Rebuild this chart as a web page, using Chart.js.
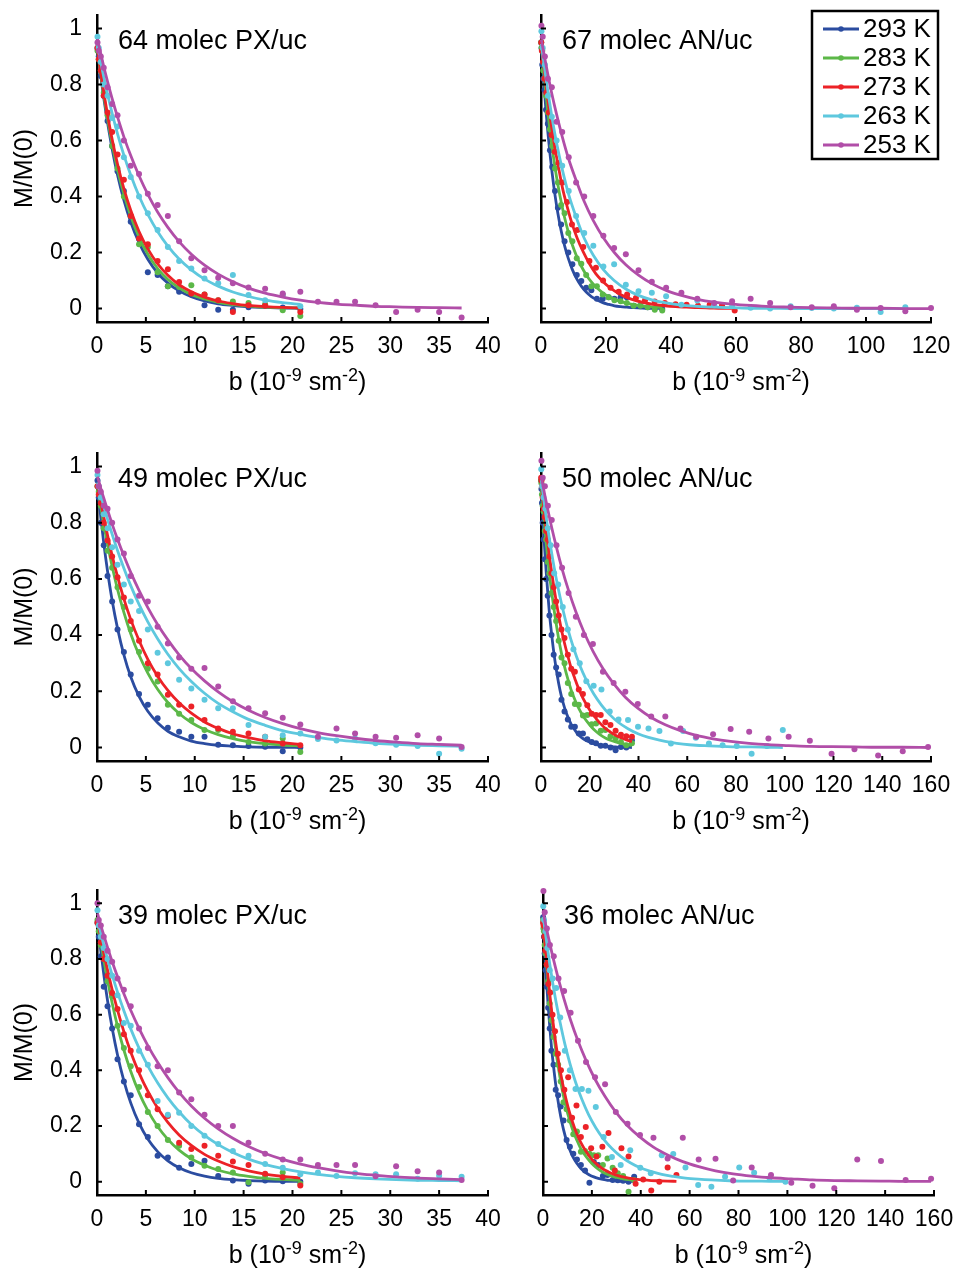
<!DOCTYPE html>
<html lang="en">
<head>
<meta charset="UTF-8">
<title>Normalised echo decay M/M(0)</title>
<script src="https://cdn.jsdelivr.net/npm/chart.js@4"></script>
<style>
body { margin: 0; background: #fff; overflow: hidden; width: 958px; height: 1273px; position: relative; }
.panel { position: absolute; }
</style>
</head>
<body>
<div class="panel" id="tl"></div>
<div class="panel" id="tr"></div>
<div class="panel" id="ml"></div>
<div class="panel" id="mr"></div>
<div class="panel" id="bl"></div>
<div class="panel" id="br"></div>
<script>
// legend + axes
const temps = ['293 K', '283 K', '273 K', '263 K', '253 K'];
const colors = ['#2b4ca0', '#5cb848', '#ec2227', '#5ec8de', '#b14ea8'];
const yTicks = [0, 0.2, 0.4, 0.6, 0.8, 1];
const xTicksPX = [0, 5, 10, 15, 20, 25, 30, 35, 40];
const xTicks120 = [0, 20, 40, 60, 80, 100, 120];
const xTicks160 = [0, 20, 40, 60, 80, 100, 120, 140, 160];
// x title pieces: text, font size, baseline shift (superscripts raised)
const xTitleParts = [['b (10', 25, 0], ['-9', 18, -9], [' sm', 25, 0], ['-2', 18, -9], [')', 25, 0]];

// b values (10^-9 s m^-2)
const b37 = [0.05, 0.18, 0.39, 0.69, 1.08, 1.55, 2.1, 2.75, 3.45, 4.3, 5.2, 6.2, 7.25, 8.4, 9.65, 11.0, 12.4, 13.9, 15.5, 17.2, 19.0, 20.8, 22.6, 24.5, 26.4, 28.5, 30.6, 32.8, 35.0, 37.3];
const b55 = [0.06, 0.24, 0.55, 0.97, 1.52, 2.19, 2.97, 3.88, 4.92, 6.07, 7.34, 8.74, 10.3, 11.9, 13.7, 15.5, 17.5, 19.7, 21.9, 24.3, 26.8, 29.4, 32.1, 35.0, 37.9, 41.0, 44.3, 47.6, 51.0, 54.6];
const b60 = [0.07, 0.26, 0.6, 1.06, 1.66, 2.38, 3.24, 4.24, 5.36, 6.62, 8.01, 9.53, 11.2, 13.0, 14.9, 16.9, 19.1, 21.4, 23.9, 26.5, 29.2, 32.0, 35.0, 38.1, 41.4, 44.8, 48.3, 51.9, 55.7, 59.6];
const b100 = [0.11, 0.44, 0.99, 1.76, 2.76, 3.97, 5.4, 7.05, 8.93, 11.0, 13.3, 15.9, 18.6, 21.6, 24.8, 28.2, 31.8, 35.7, 39.8, 44.1, 48.6, 53.3, 58.3, 63.5, 68.9, 74.5, 80.3, 86.4, 92.7, 99.2];
const b120 = [0.13, 0.53, 1.2, 2.13, 3.33, 4.8, 6.53, 8.53, 10.8, 13.3, 16.1, 19.2, 22.5, 26.1, 30.0, 34.1, 38.5, 43.2, 48.1, 53.3, 58.8, 64.5, 70.5, 76.8, 83.3, 90.1, 97.2, 104.5, 112.1, 120];
const b160 = [0.18, 0.71, 1.59, 2.82, 4.41, 6.35, 8.64, 11.3, 14.3, 17.6, 21.3, 25.4, 29.8, 34.6, 39.7, 45.2, 51.0, 57.2, 63.7, 70.6, 77.8, 85.4, 93.3, 101.6, 110.3, 119.2, 128.6, 138.3, 148.4, 158.8];

// 64 molec PX/uc
const px64_293 = [.93,.90,.83,.76,.67,.58,.49,.42,.31,.25,.13,.12,.08,.06,.05,.012,-.004,-.004,.005,.01,.004,-.002];
const px64_293_fit = [.925,.887,.829,.752,.664,.570,.477,.387,.309,.235,.176,.127,.091,.063,.042,.027,.017,.011,.006,.004,.002,.001];
const px64_283 = [.92,.89,.85,.77,.69,.58,.50,.40,.33,.23,.22,.13,.08,.077,.083,.05,.03,.025,.02,.015,-.006,-.027];
const px64_283_fit = [.926,.890,.836,.763,.678,.588,.497,.409,.330,.255,.194,.143,.104,.074,.050,.034,.022,.014,.009,.005,.003,.002];
const px64_273 = [.93,.89,.85,.76,.70,.63,.55,.46,.33,.25,.23,.17,.14,.095,.054,.05,.03,-.012,.012,.01,.048,-.012];
const px64_273_fit = [.927,.893,.841,.772,.691,.604,.516,.428,.351,.275,.213,.160,.119,.085,.060,.041,.027,.018,.011,.007,.004,.002];
const px64_263 = [.97,.93,.88,.80,.76,.68,.65,.54,.47,.40,.34,.28,.22,.17,.143,.107,.09,.12,.048,.03,.048,.008];
const px64_263_fit = [.941,.917,.879,.827,.765,.697,.624,.548,.477,.402,.336,.275,.223,.177,.138,.105,.080,.059,.043,.030,.021,.015];
const px64_253 = [.95,.92,.90,.86,.79,.73,.69,.60,.51,.48,.41,.37,.33,.24,.18,.137,.11,.09,.075,.071,.054,.06,.024,.024,.024,.012,-.012,-.004,-.012,-.032];
const px64_253_fit = [.962,.941,.909,.864,.810,.749,.684,.613,.546,.474,.408,.345,.290,.239,.194,.155,.123,.096,.073,.055,.041,.030,.022,.016,.012,.008,.006,.004,.003,.002];

// 67 molec AN/uc
const an67_293 = [.95,.93,.87,.82,.78,.71,.66,.565,.505,.42,.36,.30,.24,.20,.158,.12,.098,.074,.065,.035,.035,.04,.035,.04,.04,.01,.01,.005,.0,-.002];
const an67_293_fit = [.95,.925,.887,.836,.774,.704,.631,.554,.482,.406,.339,.278,.225,.179,.139,.106,.080,.059,.043,.031,.021,.015,.010,.007,.005,.003,.002,.001,.001,0];
const an67_283 = [.95,.93,.92,.85,.82,.76,.70,.64,.58,.50,.45,.37,.34,.27,.24,.18,.16,.12,.08,.08,.05,.04,.03,.026,.02,.01,.01,.005,-.004,-.007];
const an67_283_fit = [.953,.935,.906,.866,.817,.762,.702,.637,.574,.505,.442,.381,.325,.274,.227,.186,.151,.121,.095,.074,.056,.043,.033,.025,.019,.014,.010,.007,.005,.004];
const an67_273 = [.95,.92,.88,.82,.77,.70,.62,.56,.52,.45,.38,.30,.28,.22,.17,.146,.10,.074,.06,.05,.038,.03,.025,.02,.015,.014,.01,.014,.012,-.007];
const an67_273_fit = [.951,.928,.893,.845,.785,.720,.650,.576,.506,.430,.366,.304,.249,.202,.160,.124,.096,.073,.054,.039,.028,.020,.014,.010,.007,.005,.003,.002,.001,.001];
const an67_263 = [.99,.93,.87,.76,.685,.60,.51,.42,.33,.27,.224,.15,.158,.085,.062,.056,.044,.014,.029,.012,.008,.003,.0,.008,.002,.0,.003,-.012,.005];
const an67_263_fit = [.945,.907,.850,.774,.686,.591,.498,.407,.327,.251,.190,.139,.100,.070,.047,.031,.020,.012,.008,.005,.003,.001,.001,0,0,0,0,0,0];
const an67_253 = [1.01,.97,.90,.82,.79,.667,.63,.54,.45,.40,.33,.26,.216,.194,.137,.096,.074,.056,.035,.02,.026,.035,.02,.005,.005,.008,-.004,.002,-.01,.002];
const an67_253_fit = [.96,.933,.891,.835,.767,.693,.614,.533,.458,.382,.314,.253,.201,.156,.119,.089,.065,.047,.033,.023,.016,.011,.007,.005,.003,.002,.001,.001,0,0];

// 49 molec PX/uc
const px49_293 = [.95,.89,.80,.72,.61,.52,.42,.34,.26,.19,.152,.104,.07,.056,.038,.038,.01,.008,.005,.003,-.013,.0];
const px49_293_fit = [.932,.886,.818,.728,.627,.523,.424,.330,.252,.182,.129,.088,.058,.038,.023,.014,.008,.005,.002,.001,.001,0];
const px49_283 = [.93,.91,.86,.78,.70,.64,.57,.50,.42,.34,.28,.235,.152,.12,.098,.062,.062,.04,.02,.014,.032,-.016];
const px49_283_fit = [.929,.900,.855,.794,.722,.644,.563,.481,.405,.329,.265,.207,.160,.121,.089,.064,.046,.032,.021,.014,.009,.006];
const px49_273 = [.93,.90,.87,.80,.737,.68,.606,.534,.45,.38,.30,.26,.188,.152,.146,.098,.068,.056,.05,.038,.014,.008];
const px49_273_fit = [.940,.914,.874,.821,.755,.683,.608,.529,.456,.381,.314,.254,.203,.159,.122,.091,.068,.049,.035,.024,.017,.011];
const px49_263 = [.97,.93,.89,.83,.78,.713,.65,.58,.52,.486,.42,.337,.30,.241,.21,.17,.14,.14,.08,.038,.044,.05,.03,.025,.032,.015,.01,.005,-.022,-.004];
const px49_263_fit = [.943,.925,.898,.860,.812,.759,.701,.638,.576,.509,.447,.387,.332,.281,.235,.193,.157,.127,.100,.079,.060,.047,.036,.027,.021,.015,.011,.008,.006,.004];
const px49_253 = [.985,.93,.91,.86,.85,.80,.74,.69,.61,.54,.52,.43,.37,.32,.28,.283,.217,.165,.14,.122,.106,.082,.038,.068,.05,.038,.035,.044,.032,.002];
const px49_253_fit = [.964,.948,.922,.888,.845,.795,.741,.682,.623,.559,.498,.438,.383,.330,.281,.237,.198,.163,.133,.107,.085,.067,.053,.042,.033,.025,.019,.014,.011,.008];

// 50 molec AN/uc
const an50_293 = [.95,.92,.87,.80,.74,.67,.60,.54,.47,.40,.33,.285,.26,.17,.128,.10,.074,.074,.05,.05,.029,.02,.015,.006,.006,.0,-.01,.002,.0,.026];
const an50_293_fit = [.942,.918,.881,.830,.768,.701,.628,.553,.478,.408,.342,.281,.228,.181,.142,.109,.082,.062,.044,.032,.023,.016,.011,.007,.005,.003,.002,.001,.001,0];
const an50_283 = [.95,.94,.90,.86,.84,.77,.74,.66,.62,.55,.50,.45,.38,.32,.30,.23,.19,.155,.152,.114,.116,.083,.085,.06,.062,.04,.032,.02,.008,.015];
const an50_283_fit = [.945,.929,.906,.873,.831,.785,.732,.676,.617,.559,.500,.442,.387,.335,.288,.244,.204,.170,.139,.113,.091,.072,.057,.044,.034,.026,.020,.015,.011,.008];
const an50_273 = [.96,.95,.93,.89,.85,.82,.77,.74,.68,.62,.57,.52,.47,.42,.39,.33,.28,.27,.206,.19,.15,.12,.116,.116,.09,.08,.06,.045,.04,.038];
const an50_273_fit = [.956,.944,.924,.897,.863,.825,.780,.733,.681,.629,.576,.522,.470,.419,.371,.326,.282,.245,.208,.176,.148,.123,.103,.084,.068,.055,.044,.035,.027,.021];
const an50_263 = [.99,.93,.89,.85,.78,.72,.62,.58,.50,.42,.35,.30,.236,.22,.206,.128,.10,.098,.074,.068,.059,.014,.059,.035,.014,.008,.005,-.022,.005,.062];
const an50_263_fit = [.952,.929,.892,.842,.781,.714,.641,.567,.493,.422,.356,.293,.240,.191,.151,.117,.089,.067,.049,.036,.026,.018,.012,.008,.006,.004,.002,.002,.001,0];
const an50_253 = [1.02,.96,.93,.86,.81,.72,.64,.55,.465,.40,.368,.27,.23,.198,.155,.11,.11,.068,.038,.047,.066,.056,.032,.038,.024,-.022,-.006,-.028,-.013,.002];
const an50_253_fit = [.961,.937,.897,.845,.782,.712,.636,.559,.483,.411,.343,.281,.227,.179,.140,.107,.081,.060,.043,.031,.022,.015,.010,.007,.004,.003,.002,.001,.001,0];

// 39 molec PX/uc
const px39_293 = [.93,.88,.81,.70,.63,.55,.44,.36,.31,.206,.16,.093,.087,.05,.063,.075,.02,.004,-.008,.004,.001,.0];
const px39_293_fit = [.934,.892,.829,.746,.650,.552,.455,.362,.283,.210,.153,.108,.075,.050,.032,.020,.012,.007,.004,.002,.001,.001];
const px39_283 = [.94,.90,.85,.80,.72,.666,.56,.48,.415,.34,.25,.20,.15,.129,.087,.057,.045,.033,-.002,.021,.033,-.008];
const px39_283_fit = [.938,.908,.861,.798,.723,.642,.558,.473,.397,.320,.255,.198,.152,.113,.082,.059,.041,.028,.019,.012,.008,.005];
const px39_273 = [.93,.92,.86,.80,.74,.678,.62,.53,.47,.40,.31,.26,.236,.14,.117,.129,.093,.072,.06,.028,.016,-.014];
const px39_273_fit = [.940,.915,.877,.823,.760,.690,.616,.539,.466,.391,.325,.265,.213,.168,.130,.098,.074,.054,.039,.027,.019,.013];
const px39_263 = [.975,.92,.88,.84,.80,.74,.67,.57,.56,.47,.42,.29,.24,.248,.20,.165,.135,.11,.093,.063,.05,.027,.033,.02,.03,.027,.027,.01,.021,.018];
const px39_263_fit = [.943,.923,.893,.851,.800,.743,.681,.614,.549,.480,.416,.355,.301,.251,.205,.166,.133,.105,.081,.062,.047,.035,.026,.019,.014,.010,.007,.005,.004,.003];
const px39_253 = [1.0,.94,.92,.88,.83,.79,.73,.69,.63,.55,.48,.415,.40,.32,.296,.24,.20,.20,.14,.10,.08,.08,.06,.06,.06,.019,.055,.037,.033,.006];
const px39_253_fit = [.964,.948,.921,.886,.842,.791,.736,.675,.616,.551,.489,.429,.374,.321,.272,.228,.190,.156,.126,.101,.080,.063,.050,.039,.030,.023,.017,.013,.010,.007];

// 36 molec AN/uc
const an36_293 = [.95,.93,.88,.82,.76,.70,.625,.55,.47,.42,.33,.31,.27,.22,.15,.125,.10,.08,.06,.04,-.004,.071,.06,.02,.024,.006,.005,.003,.0,.018];
const an36_293_fit = [.942,.918,.882,.832,.772,.705,.633,.559,.485,.415,.349,.288,.234,.187,.147,.114,.086,.065,.047,.034,.024,.017,.012,.008,.005,.004,.002,.001,.001,.001];
const an36_283 = [.94,.91,.90,.85,.82,.78,.72,.64,.58,.52,.46,.42,.36,.285,.26,.22,.17,.18,.107,.11,.10,.095,.095,.06,.083,.05,.03,.02,-.036,.006];
const an36_283_fit = [.945,.928,.902,.866,.823,.772,.717,.657,.596,.535,.474,.415,.359,.307,.260,.218,.180,.148,.118,.095,.075,.058,.045,.034,.026,.019,.014,.010,.007,.005];
const an36_273 = [.93,.92,.88,.83,.78,.71,.68,.60,.54,.46,.40,.33,.375,.23,.274,.16,.196,.12,.09,.125,.175,.04,.12,.09,-.008,.008,-.032,.0,.051,.024];
const an36_273_fit = [.943,.922,.887,.843,.788,.725,.658,.588,.517,.449,.384,.323,.266,.219,.175,.140,.110,.083,.064,.047,.035,.025,.018,.013,.009,.006,.004,.003,.002,.001];
const an36_263 = [.99,.94,.90,.84,.76,.73,.696,.59,.47,.40,.333,.333,.327,.268,.16,.089,.06,.113,.05,.03,.095,.099,.051,-.012,-.018,.018,.051,.032,.012,.0];
const an36_263_fit = [.952,.929,.892,.843,.782,.715,.643,.570,.495,.425,.358,.296,.242,.194,.153,.119,.091,.068,.050,.037,.026,.019,.013,.009,.006,.004,.002,.002,.001,.001];
const an36_253 = [1.044,.968,.91,.85,.81,.73,.685,.607,.506,.43,.375,.35,.25,.208,.168,.158,.083,.158,.08,.082,.004,.051,.024,-.004,-.015,-.024,.08,.074,.006,.01];
const an36_253_fit = [.962,.939,.902,.854,.794,.727,.655,.580,.506,.436,.368,.306,.250,.201,.160,.124,.096,.072,.054,.039,.028,.020,.014,.010,.006,.004,.003,.002,.001,.001];

const panels = [
  { id: 'tl', text: '64 molec PX/uc', xMax: 40, xTicks: xTicksPX,
    series: [[b37, px64_293, px64_293_fit], [b37, px64_283, px64_283_fit], [b37, px64_273, px64_273_fit], [b37, px64_263, px64_263_fit], [b37, px64_253, px64_253_fit]] },
  { id: 'tr', text: '67 molec AN/uc', xMax: 120, xTicks: xTicks120, legend: true,
    series: [[b37, an67_293, an67_293_fit], [b37, an67_283, an67_283_fit], [b60, an67_273, an67_273_fit], [b120, an67_263, an67_263_fit], [b120, an67_253, an67_253_fit]] },
  { id: 'ml', text: '49 molec PX/uc', xMax: 40, xTicks: xTicksPX,
    series: [[b37, px49_293, px49_293_fit], [b37, px49_283, px49_283_fit], [b37, px49_273, px49_273_fit], [b37, px49_263, px49_263_fit], [b37, px49_253, px49_253_fit]] },
  { id: 'mr', text: '50 molec AN/uc', xMax: 160, xTicks: xTicks160,
    series: [[b37, an50_293, an50_293_fit], [b37, an50_283, an50_283_fit], [b37, an50_273, an50_273_fit], [b100, an50_263, an50_263_fit], [b160, an50_253, an50_253_fit]] },
  { id: 'bl', text: '39 molec PX/uc', xMax: 40, xTicks: xTicksPX,
    series: [[b37, px39_293, px39_293_fit], [b37, px39_283, px39_283_fit], [b37, px39_273, px39_273_fit], [b37, px39_263, px39_263_fit], [b37, px39_253, px39_253_fit]] },
  { id: 'br', text: '36 molec AN/uc', xMax: 160, xTicks: xTicks160,
    series: [[b37, an36_293, an36_293_fit], [b37, an36_283, an36_283_fit], [b55, an36_273, an36_273_fit], [b100, an36_263, an36_263_fit], [b160, an36_253, an36_253_fit]] }
];

// where each panel sits on the page
const layout = {
  tl: { left: 0,   top: 0,   w: 500, h: 402, padTop: 15, padRight: 12, yW: 97, xH: 80, yLabels: true },
  tr: { left: 500, top: 0,   w: 458, h: 402, padTop: 15, padRight: 27, yW: 41, xH: 80, yLabels: false },
  ml: { left: 0,   top: 437, w: 500, h: 404, padTop: 16, padRight: 12, yW: 97, xH: 80, yLabels: true },
  mr: { left: 500, top: 437, w: 458, h: 404, padTop: 16, padRight: 27, yW: 41, xH: 80, yLabels: false },
  bl: { left: 0,   top: 875, w: 500, h: 396, padTop: 15, padRight: 12, yW: 97, xH: 76, yLabels: true },
  br: { left: 500, top: 875, w: 458, h: 396, padTop: 15, padRight: 24, yW: 43, xH: 76, yLabels: false }
};

const FONT = '"Liberation Sans", Arial, Helvetica, sans-serif';
Chart.defaults.font.family = FONT;
Chart.defaults.color = '#000';

// MATLAB style ticks pointing into the plot
const inwardTicks = {
  id: 'inwardTicks',
  afterDraw(chart) {
    const { ctx, chartArea: a, scales: { x, y } } = chart;
    ctx.save();
    ctx.strokeStyle = '#000';
    ctx.lineWidth = 2;
    ctx.beginPath();
    x.ticks.forEach(t => {
      const px = x.getPixelForValue(t.value);
      ctx.moveTo(px, a.bottom);
      ctx.lineTo(px, a.bottom - 5);
    });
    y.ticks.forEach(t => {
      const py = y.getPixelForValue(t.value);
      ctx.moveTo(a.left, py);
      ctx.lineTo(a.left + 5, py);
    });
    ctx.stroke();
    ctx.restore();
  }
};

// panel caption + x axis title with real superscripts
const panelText = {
  id: 'panelText',
  afterDraw(chart, args, opts) {
    const { ctx, chartArea: a } = chart;
    ctx.save();
    ctx.fillStyle = '#000';
    ctx.textBaseline = 'alphabetic';
    ctx.font = '27px ' + FONT;
    ctx.fillText(opts.text, a.left + 21, a.top + 34);

    let total = 0;
    xTitleParts.forEach(([s, size]) => {
      ctx.font = size + 'px ' + FONT;
      total += ctx.measureText(s).width;
    });
    let x = (a.left + a.right) / 2 + 5 - total / 2;
    const base = a.bottom + 68;
    xTitleParts.forEach(([s, size, shift]) => {
      ctx.font = size + 'px ' + FONT;
      ctx.fillText(s, x, base + shift);
      x += ctx.measureText(s).width;
    });
    ctx.restore();
  }
};

const tempLegend = {
  id: 'tempLegend',
  afterDraw(chart) {
    const { ctx, chartArea: a } = chart;
    const x0 = a.right + 7 - 126, y0 = a.top - 4;
    ctx.save();
    ctx.fillStyle = '#fff';
    ctx.fillRect(x0, y0, 126, 148);
    ctx.strokeStyle = '#000';
    ctx.lineWidth = 2.5;
    ctx.strokeRect(x0, y0, 126, 148);
    ctx.font = '26px ' + FONT;
    ctx.textBaseline = 'middle';
    temps.forEach((t, i) => {
      const yy = y0 + 18 + 29 * i;
      ctx.strokeStyle = colors[i];
      ctx.lineWidth = 3;
      ctx.beginPath();
      ctx.moveTo(x0 + 11, yy);
      ctx.lineTo(x0 + 47, yy);
      ctx.stroke();
      ctx.fillStyle = colors[i];
      ctx.beginPath();
      ctx.arc(x0 + 29, yy, 2.8, 0, Math.PI * 2);
      ctx.fill();
      ctx.fillStyle = '#000';
      ctx.fillText(t, x0 + 51, yy + 1);
    });
    ctx.restore();
  }
};

function toPoints(grid, vals) {
  return vals.map((v, k) => ({ x: grid[k], y: v }));
}

function buildPanel(p) {
  const L = layout[p.id];
  const wrap = document.getElementById(p.id);
  wrap.style.left = L.left + 'px';
  wrap.style.top = L.top + 'px';
  wrap.style.width = L.w + 'px';
  wrap.style.height = L.h + 'px';
  const canvas = document.createElement('canvas');
  canvas.width = L.w;
  canvas.height = L.h;
  wrap.appendChild(canvas);

  const datasets = [];
  p.series.forEach(([grid, dots, fit], i) => {
    datasets.push({
      label: temps[i] + ' fit',
      data: toPoints(grid, fit),
      showLine: true,
      borderColor: colors[i],
      borderWidth: 2.8,
      pointRadius: 0,
      cubicInterpolationMode: 'monotone',
      order: 10 - 2 * i,
      clip: false
    });
    datasets.push({
      label: temps[i],
      data: toPoints(grid, dots),
      backgroundColor: colors[i],
      borderWidth: 0,
      pointRadius: 3,
      order: 9 - 2 * i,
      clip: false
    });
  });

  const plugins = [inwardTicks, panelText];
  if (p.legend) plugins.push(tempLegend);

  new Chart(canvas, {
    type: 'scatter',
    data: { datasets },
    options: {
      responsive: false,
      animation: false,
      devicePixelRatio: 1,
      events: [],
      layout: { padding: { top: L.padTop, right: L.padRight, left: 0, bottom: 0 } },
      plugins: {
        legend: { display: false },
        tooltip: { enabled: false },
        panelText: { text: p.text }
      },
      scales: {
        x: {
          type: 'linear',
          min: 0,
          max: p.xMax,
          grid: { display: false, drawTicks: false },
          border: { display: true, color: '#000', width: 2.5 },
          afterBuildTicks: s => { s.ticks = p.xTicks.map(v => ({ value: v })); },
          afterFit: s => { s.height = L.xH; s.paddingLeft = 0; s.paddingRight = 0; },
          ticks: { font: { size: 23 }, color: '#000', padding: 11, maxRotation: 0, autoSkip: false,
                   callback: v => String(v) },
          title: { display: false }
        },
        y: {
          type: 'linear',
          min: -0.048,
          max: 1.048,
          grid: { display: false, drawTicks: false },
          border: { display: true, color: '#000', width: 2.5 },
          afterBuildTicks: s => { s.ticks = yTicks.map(v => ({ value: v })); },
          afterFit: s => { s.width = L.yW; s.paddingTop = 0; s.paddingBottom = 0; },
          ticks: { display: L.yLabels, font: { size: 23 }, color: '#000', padding: 15,
                   callback: v => String(Math.round(v * 10) / 10) },
          title: { display: L.yLabels, text: 'M/M(0)', color: '#000',
                   font: { size: 25, lineHeight: 1.2 }, padding: { top: 10, bottom: 0 } }
        }
      }
    },
    plugins
  });
}

panels.forEach(buildPanel);
</script>
</body>
</html>
